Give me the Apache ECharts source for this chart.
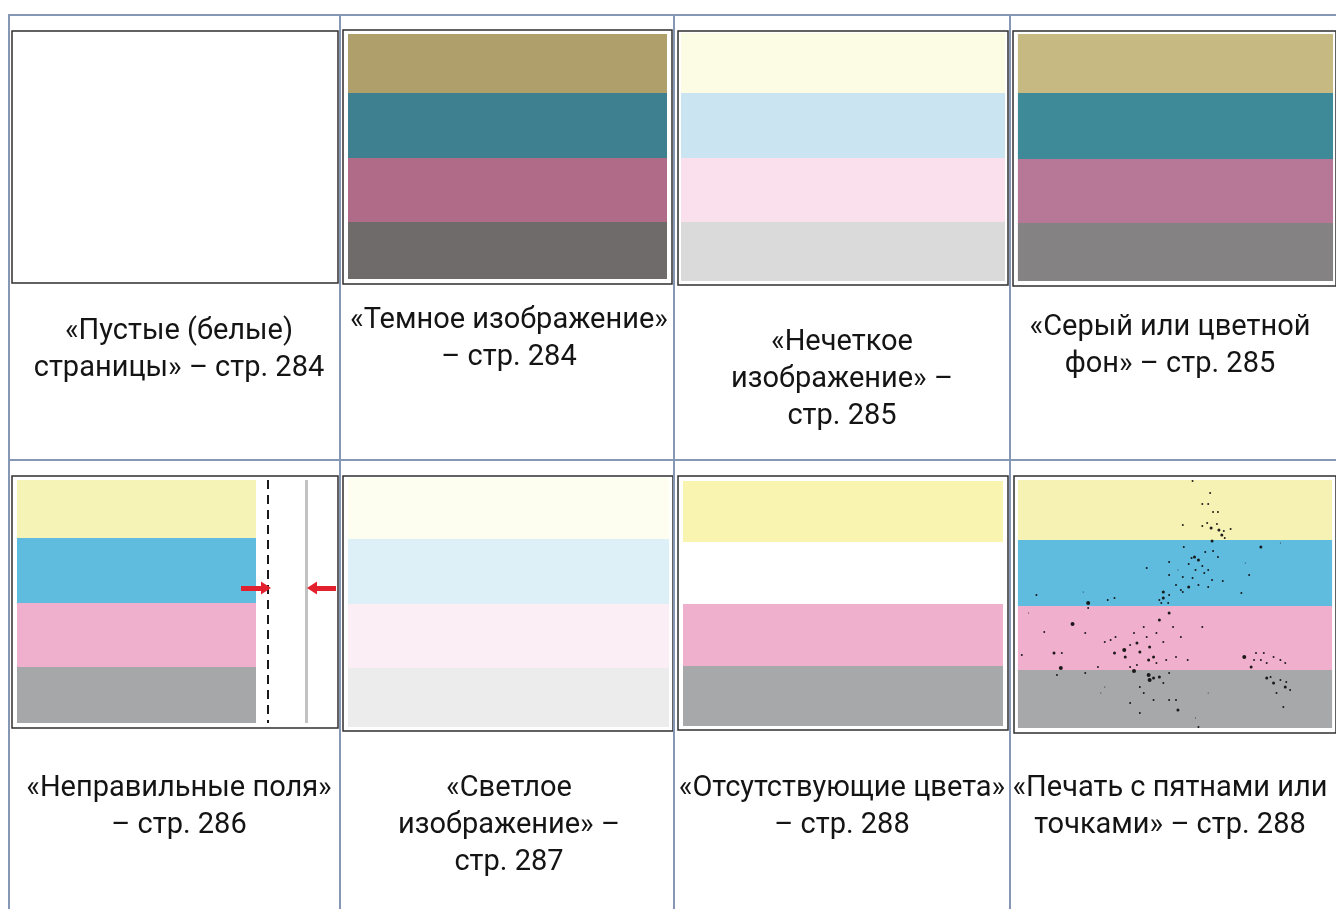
<!DOCTYPE html>
<html>
<head>
<meta charset="utf-8">
<script src="https://cdn.jsdelivr.net/npm/echarts@6/dist/echarts.min.js"></script>
<style>
html, body { margin: 0; padding: 0; background: #fff; }
#chart { width: 1336px; height: 909px; }
</style>
</head>
<body>
<div id="chart"></div>
<script>
// подписи ячеек, по строкам
const captions = [
  '«Пустые (белые)\nстраницы» – стр. 284',
  '«Темное изображение»\n– стр. 284',
  '«Нечеткое\nизображение» –\nстр. 285',
  '«Серый или цветной\nфон» – стр. 285',
  '«Неправильные поля»\n– стр. 286',
  '«Светлое\nизображение» –\nстр. 287',
  '«Отсутствующие цвета»\n– стр. 288',
  '«Печать с пятнами или\nточками» – стр. 288'
]

// высота полос образца (px), сверху вниз
const stripeHeights = [
  [],
  [59, 65, 64, 57],
  [60, 65, 64, 59],
  [59, 66, 64, 58],
  [58, 65, 64, 56],
  [61, 65, 64, 59],
  [61, 62, 62, 60],
  [60, 66, 64, 58]
]
const stripeWidths = [0, 319, 324, 322, 239, 321, 320, 322]
const stripeColors = [
  [],
  ['#ae9f6b', '#3f8090', '#b06b88', '#6f6b6b'],
  ['#fcfce4', '#cbe4f1', '#fae0ec', '#dadada'],
  ['#c6b982', '#3e8a99', '#b67896', '#848282'],
  ['#f5f3b5', '#60bcdf', '#efb0ce', '#a6a7a9'],
  ['#fefef0', '#def0f7', '#fbeef4', '#ececec'],
  ['#f9f5b0', '#ffffff', '#efb0cd', '#a7a8aa'],
  ['#f6f2b4', '#5fbcdf', '#f0b0cd', '#a7a8aa']
]

// «неправильные поля»: пунктир и серая линия (px от левого края полос)
const marginLines = [251, 289]
const marginArrowY = 108
const arrowLeft = [224, 249]
const arrowRight = [319, 295]

// пятна на последнем образце: [x, y, размер]
const spots = [
  [179, 1, 2], [197, 13, 2], [189, 24, 2], [195, 24, 2], [200, 32, 2], [205, 32, 2],
  [169, 45, 2], [189, 46, 2], [194, 43, 2], [198, 48, 3], [204, 44, 2], [206, 50, 3],
  [211, 51, 2], [218, 49, 2], [209, 55, 3], [212, 58, 2], [199, 61, 3],
  [249, 67, 3], [269, 63, 1], [170, 67, 2], [192, 72, 2], [200, 71, 2], [181, 77, 3],
  [185, 80, 3], [178, 78, 2], [205, 77, 2], [155, 82, 2], [164, 90, 1], [175, 84, 2],
  [182, 90, 2], [189, 86, 2], [195, 90, 2], [155, 95, 2], [169, 97, 2], [179, 98, 2],
  [191, 93, 2], [199, 100, 2], [210, 101, 2], [132, 88, 2], [162, 105, 2], [175, 107, 3],
  [185, 105, 2], [195, 107, 2], [149, 112, 3], [155, 115, 2], [167, 110, 2], [169, 112, 2],
  [229, 113, 2], [237, 95, 2], [233, 83, 1], [19, 115, 2], [67, 112, 1], [92, 120, 2],
  [99, 118, 2], [72, 123, 4], [145, 120, 2], [149, 118, 3], [154, 123, 2], [147, 123, 2],
  [72, 128, 2], [56, 144, 4], [69, 153, 2], [27, 152, 2], [11, 133, 1], [37, 173, 3],
  [45, 173, 2], [4, 175, 2], [44, 188, 4], [40, 195, 2], [89, 162, 2], [95, 160, 2],
  [100, 157, 2], [99, 173, 3], [109, 170, 4], [110, 177, 3], [115, 165, 2], [119, 153, 2],
  [122, 163, 3], [125, 172, 3], [129, 147, 2], [132, 157, 2], [135, 167, 3], [139, 177, 3],
  [142, 153, 2], [145, 140, 3], [149, 162, 2], [152, 180, 2], [155, 133, 3], [159, 147, 2],
  [162, 177, 2], [167, 157, 2], [142, 183, 2], [134, 180, 3], [122, 185, 2], [115, 187, 2],
  [82, 187, 2], [69, 193, 2], [189, 147, 2], [174, 180, 2], [232, 177, 4], [239, 187, 3],
  [244, 173, 2], [249, 180, 2], [255, 183, 2], [262, 177, 2], [269, 180, 2], [274, 183, 2],
  [252, 173, 2], [242, 180, 2],
  [119, 191, 4], [134, 195, 4], [135, 200, 4], [139, 198, 3], [145, 197, 3], [149, 203, 2],
  [155, 193, 2], [125, 207, 2], [129, 213, 2], [115, 223, 2], [139, 220, 2], [155, 220, 2],
  [164, 230, 3], [125, 233, 2], [182, 238, 1], [185, 247, 2], [255, 198, 3], [259, 197, 2],
  [262, 203, 3], [269, 200, 2], [275, 202, 2], [274, 207, 3], [279, 210, 2], [265, 213, 2],
  [272, 227, 2], [89, 207, 1], [85, 213, 1], [195, 213, 1], [162, 220, 2]
]

// рамки образцов [x, y, w, h] и отступ полос внутри рамки [left, top]
const frames = [
  [12, 31, 326, 252], [343, 30, 329, 254], [678, 31, 330, 254], [1013, 31, 330, 255],
  [12, 476, 326, 252], [343, 476, 330, 255], [678, 476, 330, 254], [1014, 476, 330, 257]
]
const insets = [[0, 0], [5, 4], [3, 2], [5, 3], [5, 4], [5, 2], [5, 5], [4, 4]]

const colX = [9, 340, 674, 1010]
const rowY = [15, 460]
const captionX = [179, 509, 842, 1170]
const captionTop = [313, 302, 324, 309, 770, 770, 770, 770]

const chart = echarts.init(document.getElementById('chart'))

const grid = []
const xAxis = []
const yAxis = []
const series = []

frames.forEach((f, i) => {
  const [il, it] = insets[i]
  grid.push({
    left: f[0], top: f[1], width: f[2], height: f[3],
    show: true, backgroundColor: '#fff', borderColor: '#2f2f2f', borderWidth: 1.5
  })
  xAxis.push({ type: 'value', gridIndex: i, min: -il, max: f[2] - il, show: false })
  yAxis.push({ type: 'value', gridIndex: i, min: -it, max: f[3] - it, inverse: true, show: false })

  let y = 0
  const data = stripeHeights[i].map((h, k) => {
    const item = { value: [0, y, stripeWidths[i], y + h], itemStyle: { color: stripeColors[i][k] } }
    y += h
    return item
  })
  series.push({
    type: 'custom',
    xAxisIndex: i,
    yAxisIndex: i,
    encode: { x: [0, 2], y: [1, 3] },
    data: data,
    renderItem: function(params, api) {
      const p0 = api.coord([api.value(0), api.value(1)])
      const p1 = api.coord([api.value(2), api.value(3)])
      return {
        type: 'rect',
        shape: { x: p0[0], y: p0[1], width: p1[0] - p0[0], height: p1[1] - p0[1] },
        style: { fill: api.visual('color') }
      }
    }
  })
})

// поля: пунктир, серая линия, красные стрелки
const total4 = stripeHeights[4].reduce((a, b) => a + b, 0)
series.push({
  type: 'line',
  xAxisIndex: 4,
  yAxisIndex: 4,
  data: [],
  markLine: {
    silent: true,
    label: { show: false },
    data: [
      [
        { coord: [marginLines[0], 0], symbol: 'none', lineStyle: { color: '#1a1a1a', width: 2, type: [9, 6] } },
        { coord: [marginLines[0], total4], symbol: 'none' }
      ],
      [
        { coord: [marginLines[1], 0], symbol: 'none', lineStyle: { color: '#c2c2c2', width: 3, type: 'solid' } },
        { coord: [marginLines[1], total4], symbol: 'none' }
      ],
      [
        { coord: [arrowLeft[0], marginArrowY], symbol: 'none', lineStyle: { color: '#e3202e', width: 5, type: 'solid' } },
        { coord: [arrowLeft[1], marginArrowY], symbol: 'triangle', symbolSize: [13, 10] }
      ],
      [
        { coord: [arrowRight[0], marginArrowY], symbol: 'none', lineStyle: { color: '#e3202e', width: 5, type: 'solid' } },
        { coord: [arrowRight[1], marginArrowY], symbol: 'triangle', symbolSize: [13, 10] }
      ]
    ]
  }
})

// пятна
series.push({
  type: 'scatter',
  xAxisIndex: 7,
  yAxisIndex: 7,
  data: spots,
  symbolSize: function(v) { return v[2] },
  itemStyle: { color: '#111', opacity: 0.95 }
})

const lineColor = '#8597b5'
const graphic = []
rowY.forEach(y => {
  graphic.push({ type: 'line', shape: { x1: colX[0] - 1, y1: y, x2: 1336, y2: y }, style: { stroke: lineColor, lineWidth: 2 } })
})
colX.forEach(x => {
  graphic.push({ type: 'line', shape: { x1: x, y1: rowY[0] - 1, x2: x, y2: 909 }, style: { stroke: lineColor, lineWidth: 2 } })
})
captions.forEach((t, i) => {
  graphic.push({
    type: 'text',
    x: captionX[i % 4],
    y: captionTop[i],
    style: {
      text: t,
      textAlign: 'center',
      textVerticalAlign: 'top',
      fontFamily: 'Roboto',
      fontSize: 29,
      lineHeight: 37,
      fill: '#141414'
    }
  })
})

chart.setOption({
  animation: false,
  backgroundColor: '#fff',
  grid: grid,
  xAxis: xAxis,
  yAxis: yAxis,
  series: series,
  graphic: graphic
})
</script>
</body>
</html>
